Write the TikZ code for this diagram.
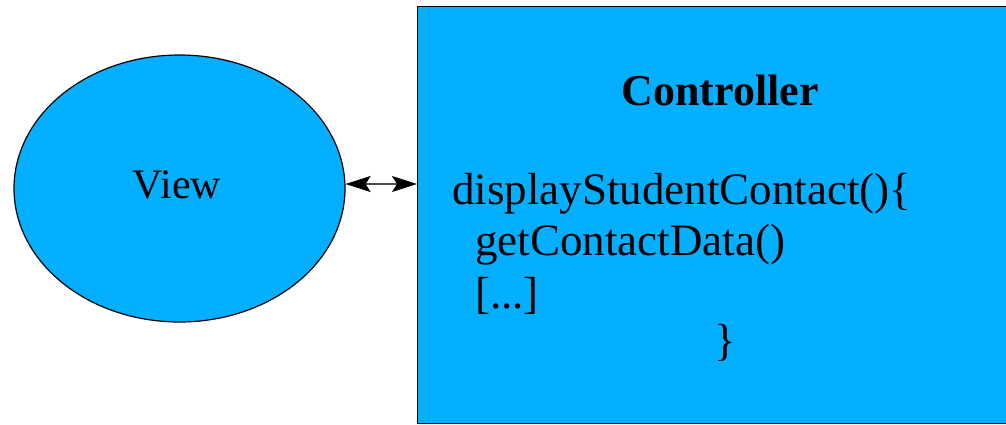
\documentclass[tikz,border=0pt]{standalone}
\usepackage{fontspec}
\setmainfont{Liberation Serif}
\usetikzlibrary{arrows.meta,shapes.geometric}
\definecolor{mvcblue}{RGB}{5,175,255}
\tikzset{
  part/.style={fill=mvcblue, draw=black, line width=1.2pt},
  code/.style={anchor=base west, inner sep=0pt, font=\fontsize{45}{50}\selectfont},
  headtip/.tip={Stealth[length=25pt,width=16pt,inset=5pt,color=black,fill=black]},
  link/.style={line width=1.2pt, draw=black!70, arrows={headtip-headtip}}
}
\begin{document}
\begin{tikzpicture}[x=1pt,y=-1pt]
\useasboundingbox (0,0) rectangle (1006,424);
\clip (0,0) rectangle (1006,424);
% view ellipse
\node[part, ellipse, minimum width=331pt, minimum height=267pt, inner sep=0pt] (view) at (179.5,188.5) {};
\node[anchor=base, inner sep=0pt, font=\fontsize{42}{48}\selectfont] (viewlabel) at (177,198) {View};
% controller box
\node[part, rectangle, anchor=north west, minimum width=620pt, minimum height=417pt, inner sep=0pt] (ctrl) at (417,6) {};
\node[anchor=base, inner sep=0pt, font=\bfseries\fontsize{44}{48}\selectfont] (ctitle) at (720,105) {Controller};
\node[code] (l1) at (452,204) {displayStudentContact()\{};
\node[code] (l2) at (475,255) {getContactData()};
\node[code] (l3) at (475,308) {[...]};
\node[code] (l4) at (714,355) {\}};
% link between the two
\draw[link] (view.east |- 0,184) -- (ctrl.west |- 0,184);
\end{tikzpicture}
\end{document}
